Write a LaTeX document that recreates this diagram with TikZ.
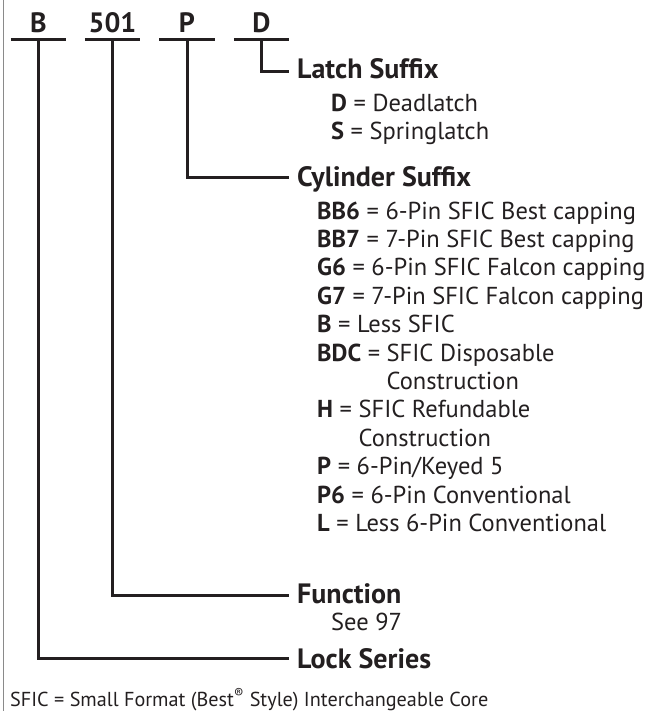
\documentclass[tikz,border=0pt]{standalone}
\usepackage{fontspec}
\setmainfont{PT Sans}
\usepackage{xcolor}
\definecolor{ink}{HTML}{231F20}
\definecolor{frame}{HTML}{8A8A8A}
\usetikzlibrary{positioning, calc}

\tikzset{
  code/.style={font=\fontsize{28}{32}\selectfont\bfseries, minimum width=55pt,
    inner sep=0pt, anchor=base},
  group/.style={font=\fontsize{28}{32}\selectfont\bfseries, inner sep=0pt,
    anchor=base west},
  option/.style={font=\fontsize{24.5}{28.4}\selectfont, inner sep=0pt,
    anchor=base west},
  note/.style={font=\fontsize{20.2}{24}\selectfont, inner sep=0pt,
    anchor=base west},
  lead/.style={ink, line width=3pt},
}

\begin{document}
\begin{tikzpicture}[x=1pt, y=-1pt, text=ink]
    \useasboundingbox (0,0) rectangle (651,711);
    \draw[frame, line width=1pt] (3,0) -- (3,711);

    % the order code
    \node[code] (ser) at (38.5,33)  {B};
    \node[code] (fun) at (112.5,33) {501};
    \node[code] (cyl) at (187,33)   {P};
    \node[code] (lat) at (261.5,33) {D};
    \foreach \n in {ser,fun,cyl,lat}{%
      \draw[lead] ([yshift=-7pt]\n.base west) -- ([yshift=-7pt]\n.base east);
    }

    % what each part means
    \node[group] (latch)  at (297,79)  {Latch Suffix};
    \node[group] (cylsuf) at (297,187) {Cylinder Suffix};
    \node[group] (func)   at (297,603) {Function};
    \node[group] (series) at (297,668) {Lock Series};

    \draw[lead] ([yshift=-7pt]lat.base) |- ([xshift=-8pt,yshift=7pt]latch.base west);
    \draw[lead] ([yshift=-7pt]cyl.base) |- ([xshift=-8pt,yshift=9pt]cylsuf.base west);
    \draw[lead] ([yshift=-7pt]fun.base) |- ([xshift=-8pt,yshift=8pt]func.base west);
    \draw[lead] ([yshift=-7pt]ser.base) |- ([xshift=-8pt,yshift=10pt]series.base west);

    \foreach \y/\k/\t [count=\i] in {112/D/Deadlatch, 140/S/Springlatch}{%
      \node[option] (lopt-\i) at (331,\y) {\textbf{\k} = \t};
    }
    \foreach \y/\k/\t [count=\i] in {%
        219/BB6/6-Pin SFIC Best capping,
        247.4/BB7/7-Pin SFIC Best capping,
        275.8/G6/6-Pin SFIC Falcon capping,
        304.2/G7/7-Pin SFIC Falcon capping,
        332.6/B/Less SFIC,
        361/BDC/{\begin{tabular}[t]{@{}l@{}}SFIC Disposable\\Construction\end{tabular}},
        417.8/H/{\begin{tabular}[t]{@{}l@{}}SFIC Refundable\\Construction\end{tabular}},
        474.6/P/{6-Pin/Keyed 5},
        503/P6/6-Pin Conventional,
        531.4/L/Less 6-Pin Conventional}{%
      \node[option] (copt-\i) at (317,\y) {\textbf{\k} = \t};
    }
    \node[option] (see) at (331,630) {See 97};

    \node[note] (sfic) at (10,706.5)
      {SFIC = Small Format (Best\textsuperscript{®} Style) Interchangeable Core};
\end{tikzpicture}
\end{document}
